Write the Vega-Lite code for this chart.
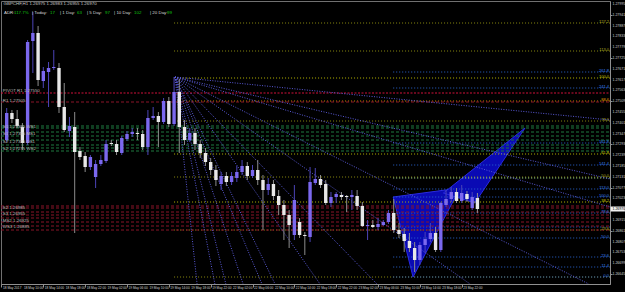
{
  "$schema": "https://vega.github.io/schema/vega-lite/v6.json",
  "width": 609,
  "height": 283,
  "autosize": {"type": "none"},
  "padding": {"left": 1, "top": 1, "right": 15, "bottom": 8},
  "background": "#000000",
  "config": {
    "view": {"stroke": "#707070", "strokeWidth": 1},
    "font": "Liberation Sans",
    "scale": {"continuousPadding": 0},
    "axis": {"labels": false, "grid": false, "domainColor": "#909090", "tickColor": "#909090", "title": null},
    "axisX": {"tickSize": 3},
    "axisY": {"tickSize": 2}
  },
  "resolve": {"scale": {"color": "independent"}},
  "datasets": {
    "candles": [
      {"b":0,"o":1.27315,"c":1.27450,"h":1.27475,"l":1.27305},
      {"b":1,"o":1.27450,"c":1.27420,"h":1.27465,"l":1.27400},
      {"b":2,"o":1.27420,"c":1.27385,"h":1.27465,"l":1.27375},
      {"b":3,"o":1.27380,"c":1.27300,"h":1.27400,"l":1.27265},
      {"b":4,"o":1.27300,"c":1.27805,"h":1.27815,"l":1.27290},
      {"b":5,"o":1.27810,"c":1.27850,"h":1.27955,"l":1.27650},
      {"b":6,"o":1.27850,"c":1.27615,"h":1.27885,"l":1.27585},
      {"b":7,"o":1.27610,"c":1.27660,"h":1.27680,"l":1.27575},
      {"b":8,"o":1.27655,"c":1.27675,"h":1.27705,"l":1.27480},
      {"b":9,"o":1.27675,"c":1.27680,"h":1.27765,"l":1.27665},
      {"b":10,"o":1.27675,"c":1.27480,"h":1.27700,"l":1.27450},
      {"b":11,"o":1.27480,"c":1.27365,"h":1.27600,"l":1.27355},
      {"b":12,"o":1.27360,"c":1.27385,"h":1.27430,"l":1.27330},
      {"b":13,"o":1.27380,"c":1.27255,"h":1.27455,"l":1.26850},
      {"b":14,"o":1.27260,"c":1.27230,"h":1.27280,"l":1.27215},
      {"b":15,"o":1.27235,"c":1.27180,"h":1.27255,"l":1.27155},
      {"b":16,"o":1.27180,"c":1.27230,"h":1.27240,"l":1.27165},
      {"b":17,"o":1.27130,"c":1.27195,"h":1.27215,"l":1.27075},
      {"b":18,"o":1.27195,"c":1.27215,"h":1.27240,"l":1.27185},
      {"b":19,"o":1.27210,"c":1.27295,"h":1.27315,"l":1.27200},
      {"b":20,"o":1.27300,"c":1.27295,"h":1.27315,"l":1.27285},
      {"b":21,"o":1.27295,"c":1.27255,"h":1.27315,"l":1.27240},
      {"b":22,"o":1.27250,"c":1.27325,"h":1.27335,"l":1.27240},
      {"b":23,"o":1.27320,"c":1.27345,"h":1.27360,"l":1.27310},
      {"b":24,"o":1.27345,"c":1.27355,"h":1.27375,"l":1.27330},
      {"b":25,"o":1.27350,"c":1.27345,"h":1.27375,"l":1.27315},
      {"b":26,"o":1.27345,"c":1.27280,"h":1.27365,"l":1.27265},
      {"b":27,"o":1.27280,"c":1.27425,"h":1.27465,"l":1.27240},
      {"b":28,"o":1.27425,"c":1.27435,"h":1.27480,"l":1.27415},
      {"b":29,"o":1.27435,"c":1.27405,"h":1.27455,"l":1.27280},
      {"b":30,"o":1.27405,"c":1.27510,"h":1.27525,"l":1.27395},
      {"b":31,"o":1.27510,"c":1.27395,"h":1.27530,"l":1.27380},
      {"b":32,"o":1.27395,"c":1.27555,"h":1.27630,"l":1.27385},
      {"b":33,"o":1.27555,"c":1.27380,"h":1.27620,"l":1.27250},
      {"b":34,"o":1.27380,"c":1.27315,"h":1.27415,"l":1.27290},
      {"b":35,"o":1.27315,"c":1.27350,"h":1.27375,"l":1.27305},
      {"b":36,"o":1.27350,"c":1.27295,"h":1.27375,"l":1.27265},
      {"b":37,"o":1.27295,"c":1.27250,"h":1.27315,"l":1.27225},
      {"b":38,"o":1.27250,"c":1.27205,"h":1.27275,"l":1.27185},
      {"b":39,"o":1.27205,"c":1.27165,"h":1.27225,"l":1.27140},
      {"b":40,"o":1.27165,"c":1.27115,"h":1.27190,"l":1.27085},
      {"b":41,"o":1.27095,"c":1.27135,"h":1.27155,"l":1.27065},
      {"b":42,"o":1.27135,"c":1.27105,"h":1.27155,"l":1.27085},
      {"b":43,"o":1.27105,"c":1.27135,"h":1.27155,"l":1.27090},
      {"b":44,"o":1.27125,"c":1.27155,"h":1.27185,"l":1.27105},
      {"b":45,"o":1.27155,"c":1.27185,"h":1.27215,"l":1.27140},
      {"b":46,"o":1.27185,"c":1.27135,"h":1.27205,"l":1.27115},
      {"b":47,"o":1.27135,"c":1.27165,"h":1.27190,"l":1.27125},
      {"b":48,"o":1.27165,"c":1.27115,"h":1.27215,"l":1.27090},
      {"b":49,"o":1.27115,"c":1.27065,"h":1.27140,"l":1.26865},
      {"b":50,"o":1.27065,"c":1.27095,"h":1.27125,"l":1.27040},
      {"b":51,"o":1.27095,"c":1.27035,"h":1.27115,"l":1.27015},
      {"b":52,"o":1.27035,"c":1.26990,"h":1.27065,"l":1.26940},
      {"b":53,"o":1.26990,"c":1.26940,"h":1.27015,"l":1.26815},
      {"b":54,"o":1.26940,"c":1.26890,"h":1.26965,"l":1.26775},
      {"b":55,"o":1.26840,"c":1.27015,"h":1.27090,"l":1.26815},
      {"b":56,"o":1.26905,"c":1.26840,"h":1.26925,"l":1.26825},
      {"b":57,"o":1.26840,"c":1.26835,"h":1.26855,"l":1.26740},
      {"b":58,"o":1.26830,"c":1.27105,"h":1.27180,"l":1.26805},
      {"b":59,"o":1.27100,"c":1.27120,"h":1.27175,"l":1.27090},
      {"b":60,"o":1.27120,"c":1.27090,"h":1.27140,"l":1.27075},
      {"b":61,"o":1.27095,"c":1.27000,"h":1.27115,"l":1.26990},
      {"b":62,"o":1.27000,"c":1.27030,"h":1.27055,"l":1.26980},
      {"b":63,"o":1.27030,"c":1.27045,"h":1.27055,"l":1.27000},
      {"b":64,"o":1.27040,"c":1.27030,"h":1.27055,"l":1.27015},
      {"b":65,"o":1.27035,"c":1.27030,"h":1.27040,"l":1.26955},
      {"b":66,"o":1.27030,"c":1.27040,"h":1.27065,"l":1.26965},
      {"b":67,"o":1.27035,"c":1.26985,"h":1.27065,"l":1.26965},
      {"b":68,"o":1.26985,"c":1.26885,"h":1.27005,"l":1.26880},
      {"b":69,"o":1.26885,"c":1.26890,"h":1.26915,"l":1.26815},
      {"b":70,"o":1.26890,"c":1.26880,"h":1.26915,"l":1.26875},
      {"b":71,"o":1.26880,"c":1.26895,"h":1.26925,"l":1.26865},
      {"b":72,"o":1.26890,"c":1.26905,"h":1.26915,"l":1.26885},
      {"b":73,"o":1.26905,"c":1.26950,"h":1.26965,"l":1.26895},
      {"b":74,"o":1.26950,"c":1.26865,"h":1.27020,"l":1.26850},
      {"b":75,"o":1.26865,"c":1.26845,"h":1.26900,"l":1.26825},
      {"b":76,"o":1.26845,"c":1.26810,"h":1.26875,"l":1.26755},
      {"b":77,"o":1.26810,"c":1.26775,"h":1.26850,"l":1.26755},
      {"b":78,"o":1.26775,"c":1.26715,"h":1.26805,"l":1.26655},
      {"b":79,"o":1.26715,"c":1.26790,"h":1.26805,"l":1.26690},
      {"b":80,"o":1.26790,"c":1.26820,"h":1.26855,"l":1.26750},
      {"b":81,"o":1.26820,"c":1.26850,"h":1.26900,"l":1.26805},
      {"b":82,"o":1.26850,"c":1.26765,"h":1.26880,"l":1.26755},
      {"b":83,"o":1.26765,"c":1.27000,"h":1.27005,"l":1.26755},
      {"b":84,"o":1.26990,"c":1.27020,"h":1.27065,"l":1.26980},
      {"b":85,"o":1.27020,"c":1.27055,"h":1.27080,"l":1.27005},
      {"b":86,"o":1.27055,"c":1.27010,"h":1.27075,"l":1.27000},
      {"b":87,"o":1.27010,"c":1.27050,"h":1.27090,"l":1.27000},
      {"b":88,"o":1.27045,"c":1.27020,"h":1.27060,"l":1.27005},
      {"b":89,"o":1.26975,"c":1.27030,"h":1.27055,"l":1.26965},
      {"b":90,"o":1.27025,"c":1.26970,"h":1.27050,"l":1.26950}
    ],
    "levels": [
      {"set":"fibA","x1":32.0,"p":1.27900,"lab":"127.2"},
      {"set":"fibA","x1":32.0,"p":1.27760,"lab":"113.0"},
      {"set":"fibAy","x1":32.0,"p":1.27625,"lab":"100.0"},
      {"set":"fibAo","x1":32.0,"p":1.27510,"lab":"88.6"},
      {"set":"fibA","x1":32.0,"p":1.27410,"lab":"78.6"},
      {"set":"fibAy","x1":32.0,"p":1.27245,"lab":"61.8"},
      {"set":"fibA","x1":32.0,"p":1.27130,"lab":"50.0"},
      {"set":"fibAy","x1":32.0,"p":1.27005,"lab":"38.2"},
      {"set":"fibA","x1":32.0,"p":1.26865,"lab":"23.6"},
      {"set":"fibA","x1":32.0,"p":1.26630,"lab":""},
      {"set":"fibB","x1":73.9,"p":1.27655,"lab":"261.8"},
      {"set":"fibB","x1":73.9,"p":1.27575,"lab":"241.4"},
      {"set":"fibB","x1":73.9,"p":1.27300,"lab":"161.8"},
      {"set":"fibB","x1":73.9,"p":1.27190,"lab":"141.4"},
      {"set":"fibBg","x1":73.9,"p":1.27125,"lab":""},
      {"set":"fibB","x1":73.9,"p":1.27070,"lab":"113.0"},
      {"set":"fibB","x1":73.9,"p":1.27030,"lab":"100.0"},
      {"set":"fibB","x1":73.9,"p":1.26950,"lab":"78.6"},
      {"set":"fibB","x1":73.9,"p":1.26880,"lab":""},
      {"set":"fibB","x1":73.9,"p":1.26825,"lab":"50.0"},
      {"set":"fibB","x1":73.9,"p":1.26730,"lab":"23.6"},
      {"set":"fibB","x1":73.9,"p":1.26680,"lab":"11.4"},
      {"set":"fibB","x1":73.9,"p":1.26630,"lab":"0.0"},
      {"set":"pivR","x1":-1.09,"p":1.27550,"lab":""},
      {"set":"pivD","x1":-1.09,"p":1.27505,"lab":""},
      {"set":"pivG","x1":-1.09,"p":1.27385,"lab":""},
      {"set":"pivG","x1":-1.09,"p":1.27375,"lab":""},
      {"set":"pivG","x1":-1.09,"p":1.27355,"lab":""},
      {"set":"pivG","x1":-1.09,"p":1.27335,"lab":""},
      {"set":"pivG","x1":-1.09,"p":1.27315,"lab":""},
      {"set":"pivG","x1":-1.09,"p":1.27290,"lab":""},
      {"set":"pivG","x1":-1.09,"p":1.27275,"lab":""},
      {"set":"pivG","x1":-1.09,"p":1.27260,"lab":""},
      {"set":"pivD","x1":-1.09,"p":1.26985,"lab":""},
      {"set":"pivD","x1":-1.09,"p":1.26975,"lab":""},
      {"set":"pivD","x1":-1.09,"p":1.26955,"lab":""},
      {"set":"pivD","x1":-1.09,"p":1.26940,"lab":""},
      {"set":"pivD","x1":-1.09,"p":1.26925,"lab":""},
      {"set":"pivD","x1":-1.09,"p":1.26905,"lab":""},
      {"set":"pivD","x1":-1.09,"p":1.26885,"lab":""},
      {"set":"pivD","x1":-1.09,"p":1.26865,"lab":""}
    ],
    "fans": [
      {"x":32.18,"y":1.27630,"x2":36.4,"y2":1.26595},
      {"x":32.18,"y":1.27630,"x2":39.8,"y2":1.26595},
      {"x":32.18,"y":1.27630,"x2":41.9,"y2":1.26595},
      {"x":32.18,"y":1.27630,"x2":45.2,"y2":1.26595},
      {"x":32.18,"y":1.27630,"x2":48.8,"y2":1.26595},
      {"x":32.18,"y":1.27630,"x2":51.3,"y2":1.26595},
      {"x":32.18,"y":1.27630,"x2":59.9,"y2":1.26595},
      {"x":32.18,"y":1.27630,"x2":70.8,"y2":1.26595},
      {"x":32.18,"y":1.27630,"x2":88.6,"y2":1.26595},
      {"x":32.18,"y":1.27630,"x2":111.3,"y2":1.26595},
      {"x":32.18,"y":1.27630,"x2":115.35,"y2":1.26980},
      {"x":32.18,"y":1.27630,"x2":115.35,"y2":1.27120},
      {"x":32.18,"y":1.27630,"x2":115.35,"y2":1.27415}
    ],
    "tri": [
      {"t":"a","i":0,"k":73.9,"p":1.27030},
      {"t":"a","i":1,"k":77.69,"p":1.26630},
      {"t":"a","i":2,"k":86.7,"p":1.27075},
      {"t":"a","i":3,"k":73.9,"p":1.27030},
      {"t":"b","i":0,"k":83.5,"p":1.27050},
      {"t":"b","i":1,"k":99.1,"p":1.27375},
      {"t":"b","i":2,"k":89.5,"p":1.27000},
      {"t":"b","i":3,"k":83.5,"p":1.27050}
    ],
    "notes": [
      {"kind":"head","k":-0.6,"p":1.27995,"txt":"GBPCHF,H1  1.26975 1.26983 1.26955 1.26970"},
      {"kind":"lab","k":-0.52,"p":1.27950,"txt":"ADR:"},
      {"kind":"val","k":1.4,"p":1.27950,"txt":"117.7%"},
      {"kind":"lab","k":4.84,"p":1.27950,"txt":"| Today:"},
      {"kind":"val","k":8.3,"p":1.27950,"txt":"17"},
      {"kind":"lab","k":10.19,"p":1.27950,"txt":"| 1 Day:"},
      {"kind":"val","k":13.44,"p":1.27950,"txt":"63"},
      {"kind":"lab","k":15.35,"p":1.27950,"txt":"| 5 Day:"},
      {"kind":"val","k":18.8,"p":1.27950,"txt":"97"},
      {"kind":"lab","k":20.52,"p":1.27950,"txt":"| 10 Day:"},
      {"kind":"val","k":24.34,"p":1.27950,"txt":"102"},
      {"kind":"lab","k":27.4,"p":1.27950,"txt":"| 20 Day:"},
      {"kind":"val","k":30.65,"p":1.27950,"txt":"99"},
      {"kind":"piv","k":-0.75,"p":1.27560,"txt":"PIVOT R1 1.27550"},
      {"kind":"piv","k":-0.75,"p":1.27512,"txt":"R1 1.27505"},
      {"kind":"piv","k":-0.75,"p":1.27380,"txt":"S1 1.27385  WS1"},
      {"kind":"piv","k":-0.75,"p":1.27345,"txt":"S1 1.27355  MS1"},
      {"kind":"piv","k":-0.75,"p":1.27305,"txt":"S2 1.27315  DS1"},
      {"kind":"piv","k":-0.75,"p":1.27268,"txt":"S2 1.27275  WS2"},
      {"kind":"piv","k":-0.75,"p":1.26975,"txt":"S2 1.26985"},
      {"kind":"piv","k":-0.75,"p":1.26945,"txt":"S3 1.26955"},
      {"kind":"piv","k":-0.75,"p":1.26912,"txt":"MS2 1.26925"},
      {"kind":"piv","k":-0.75,"p":1.26878,"txt":"WS3 1.26885"}
    ],
    "xticks": [
      {"k":-1,"lab":"18 May 2017"},{"k":3,"lab":"18 May 10:00"},{"k":7,"lab":"18 May 14:00"},{"k":11,"lab":"18 May 18:00"},
      {"k":15,"lab":"18 May 22:00"},{"k":19,"lab":"19 May 02:00"},{"k":23,"lab":"19 May 06:00"},{"k":27,"lab":"19 May 10:00"},
      {"k":31,"lab":"19 May 14:00"},{"k":35,"lab":"19 May 18:00"},{"k":39,"lab":"19 May 22:00"},{"k":43,"lab":"22 May 02:00"},
      {"k":47,"lab":"22 May 06:00"},{"k":51,"lab":"22 May 10:00"},{"k":55,"lab":"22 May 14:00"},{"k":59,"lab":"22 May 18:00"},
      {"k":63,"lab":"22 May 22:00"},{"k":67,"lab":"23 May 02:00"},{"k":71,"lab":"23 May 06:00"},{"k":75,"lab":"23 May 10:00"},
      {"k":79,"lab":"23 May 14:00"},{"k":83,"lab":"23 May 18:00"},{"k":87,"lab":"23 May 22:00"}
    ],
    "yticks": [
      {"v":1.27995},{"v":1.27941},{"v":1.27887},{"v":1.27833},{"v":1.27779},{"v":1.27725},{"v":1.27671},{"v":1.27617},{"v":1.27563},
      {"v":1.27509},{"v":1.27455},{"v":1.27401},{"v":1.27347},{"v":1.27293},{"v":1.27239},{"v":1.27185},{"v":1.27131},{"v":1.27077},
      {"v":1.27023},{"v":1.26915},{"v":1.26861},{"v":1.26807},{"v":1.26753},{"v":1.26699},{"v":1.26645}
    ],
    "last": [{"p":1.26970}]
  },
  "layer": [
    {
      "data": {"name": "tri"},
      "mark": {"type": "line", "fill": "#0a0ab4", "stroke": "#2a2ae0", "strokeWidth": 1, "clip": true},
      "encoding": {
        "x": {"field": "k", "type": "quantitative", "scale": {"domain": [-1.09, 115.35], "nice": false, "zero": false, "padding": 0},
          "axis": {"orient": "bottom", "values": [-1,3,7,11,15,19,23,27,31,35,39,43,47,51,55,59,63,67,71,75,79,83,87]}},
        "y": {"field": "p", "type": "quantitative", "scale": {"domain": [1.26595, 1.28010], "nice": false, "zero": false, "padding": 0},
          "axis": {"orient": "right", "values": [1.27995,1.27941,1.27887,1.27833,1.27779,1.27725,1.27671,1.27617,1.27563,1.27509,1.27455,1.27401,1.27347,1.27293,1.27239,1.27185,1.27131,1.27077,1.27023,1.26969,1.26915,1.26861,1.26807,1.26753,1.26699,1.26645]}},
        "detail": {"field": "t"},
        "order": {"field": "i", "type": "quantitative"}
      }
    },
    {
      "data": {"name": "levels"},
      "mark": {"type": "rule", "clip": true},
      "encoding": {
        "x": {"field": "x1", "type": "quantitative"},
        "x2": {"datum": 115.35},
        "y": {"field": "p", "type": "quantitative"},
        "color": {"field": "set", "type": "nominal", "legend": null,
          "scale": {"domain": ["fibA","fibAy","fibAo","fibB","fibBg","pivR","pivD","pivG"],
                    "range": ["#8a8a10","#b4b400","#d08a00","#2a64d0","#a8e8a0","#d0103a","#8a1428","#1e7a40"]}},
        "strokeDash": {"field": "set", "type": "nominal", "legend": null,
          "scale": {"domain": ["fibA","fibAy","fibAo","fibB","fibBg","pivR","pivD","pivG"],
                    "range": [[1,2],[1,2],[1,2],[1,2],[1,2],[2,1.5],[3,2],[3,2]]}},
        "strokeWidth": {"field": "set", "type": "nominal", "legend": null,
          "scale": {"domain": ["fibA","fibAy","fibAo","fibB","fibBg","pivR","pivD","pivG"],
                    "range": [1,1,1,1,1,2.5,1,1]}}
      }
    },
    {
      "data": {"name": "levels"},
      "transform": [{"filter": "datum.lab != ''"}],
      "mark": {"type": "text", "align": "right", "baseline": "middle", "fontSize": 4, "dx": -1, "dy": -1},
      "encoding": {
        "x": {"datum": 115.35, "type": "quantitative"},
        "y": {"field": "p", "type": "quantitative"},
        "text": {"field": "lab"},
        "color": {"field": "set", "type": "nominal", "legend": null,
          "scale": {"domain": ["fibA","fibAy","fibAo","fibB","fibBg"],
                    "range": ["#b0b020","#c8c800","#e09a00","#3a80f0","#a8e8a0"]}}
      }
    },
    {
      "data": {"name": "fans"},
      "mark": {"type": "rule", "color": "#5a5ad8", "strokeDash": [1, 1.5], "strokeWidth": 1, "clip": true},
      "encoding": {
        "x": {"field": "x", "type": "quantitative"},
        "y": {"field": "y", "type": "quantitative"},
        "x2": {"field": "x2"},
        "y2": {"field": "y2"}
      }
    },
    {
      "data": {"name": "candles"},
      "mark": {"type": "rule", "strokeWidth": 1},
      "encoding": {
        "x": {"field": "b", "type": "quantitative"},
        "y": {"field": "h", "type": "quantitative"},
        "y2": {"field": "l"},
        "color": {"condition": {"test": "datum.c >= datum.o", "value": "#4c44b8"}, "value": "#8c8c8c"}
      }
    },
    {
      "data": {"name": "candles"},
      "mark": {"type": "bar", "width": 3.4},
      "encoding": {
        "x": {"field": "b", "type": "quantitative"},
        "y": {"field": "o", "type": "quantitative"},
        "y2": {"field": "c"},
        "color": {"condition": {"test": "datum.c >= datum.o", "value": "#7b68ee"}, "value": "#e8e8e8"}
      }
    },
    {
      "data": {"name": "notes"},
      "mark": {"type": "text", "align": "left", "baseline": "middle", "fontSize": 4.4},
      "encoding": {
        "x": {"field": "k", "type": "quantitative"},
        "y": {"field": "p", "type": "quantitative"},
        "text": {"field": "txt"},
        "color": {"field": "kind", "type": "nominal", "legend": null,
          "scale": {"domain": ["head","lab","val","piv"], "range": ["#c8c8c8","#d8d8d8","#10c010","#bdbdbd"]}}
      }
    },
    {
      "data": {"name": "xticks"},
      "mark": {"type": "text", "align": "left", "baseline": "top", "fontSize": 3.2, "dx": 1.5, "dy": 2, "color": "#d0d0d0"},
      "encoding": {
        "x": {"field": "k", "type": "quantitative"},
        "y": {"datum": 1.26595, "type": "quantitative"},
        "text": {"field": "lab"}
      }
    },
    {
      "data": {"name": "yticks"},
      "mark": {"type": "text", "align": "left", "baseline": "middle", "fontSize": 3.5, "dx": 2.5, "color": "#d0d0d0"},
      "encoding": {
        "x": {"datum": 115.35, "type": "quantitative"},
        "y": {"field": "v", "type": "quantitative"},
        "text": {"field": "v", "format": ".5f"}
      }
    },
    {
      "data": {"name": "last"},
      "mark": {"type": "bar", "height": 5, "color": "#f0f0f0"},
      "encoding": {
        "x": {"datum": 115.45, "type": "quantitative"},
        "x2": {"datum": 118.2},
        "y": {"field": "p", "type": "quantitative"}
      }
    },
    {
      "data": {"name": "last"},
      "mark": {"type": "text", "align": "left", "baseline": "middle", "fontSize": 3.5, "dx": 2.5, "color": "#000000"},
      "encoding": {
        "x": {"datum": 115.35, "type": "quantitative"},
        "y": {"field": "p", "type": "quantitative"},
        "text": {"field": "p", "format": ".5f"}
      }
    }
  ]
}
